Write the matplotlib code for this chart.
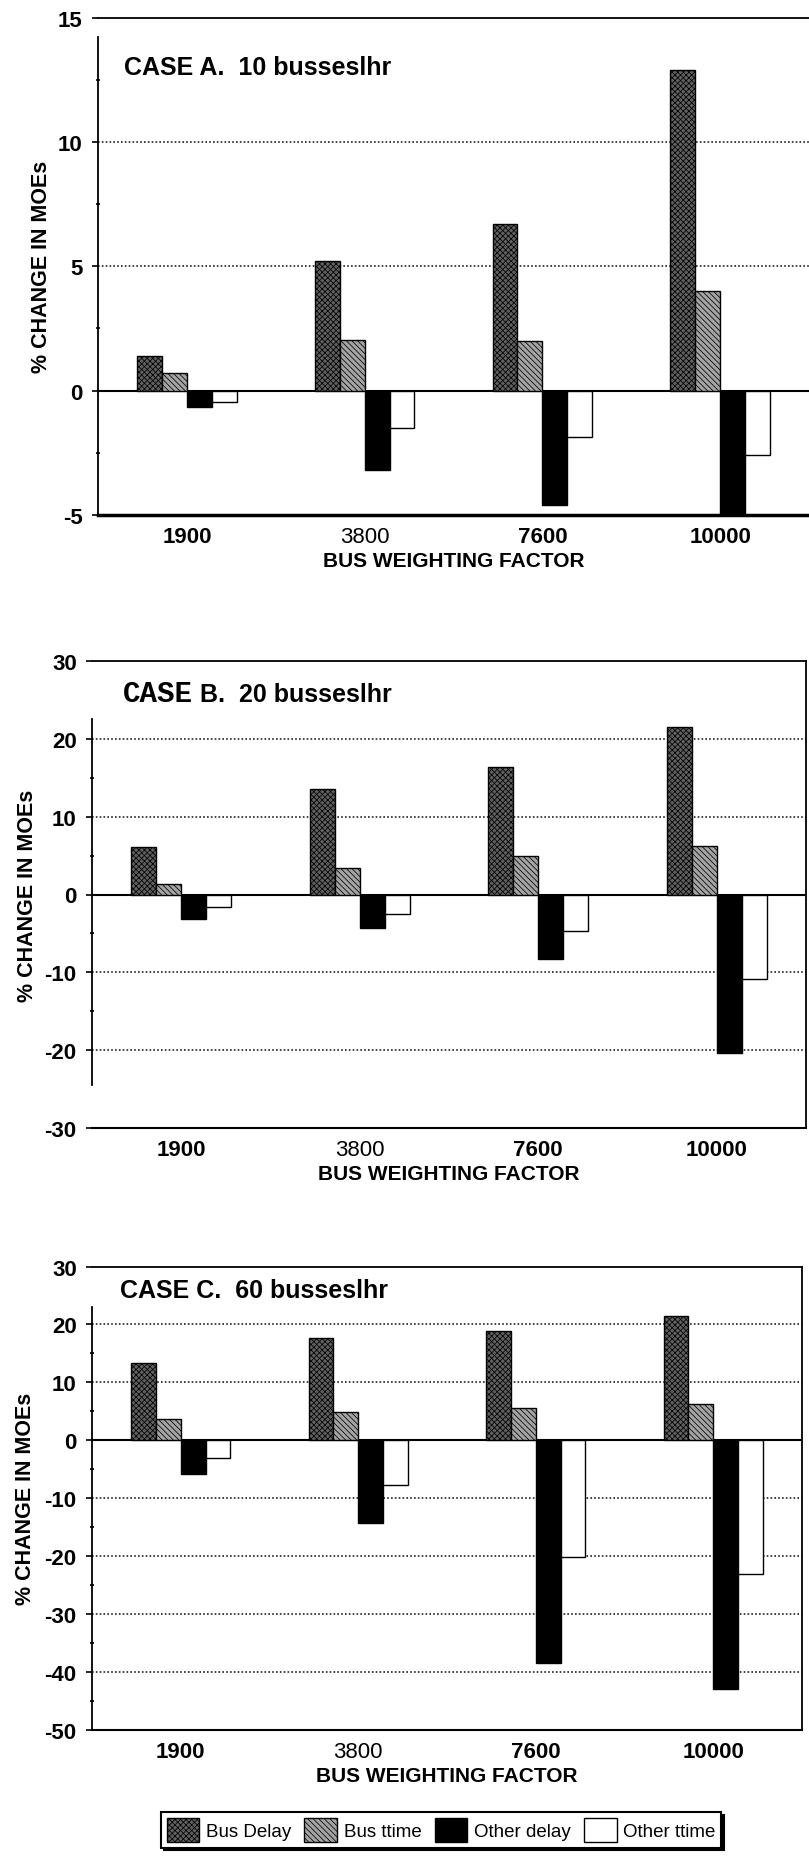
import matplotlib
matplotlib.use("Agg")
import matplotlib.pyplot as plt
import numpy as np

plt.rcParams['font.family'] = ['Liberation Sans', 'DejaVu Sans']
plt.rcParams['hatch.linewidth'] = 0.55

# ---------------- data ----------------
categories = ["1900", "3800", "7600", "10000"]
series_names = ["Bus Delay", "Bus ttime", "Other delay", "Other ttime"]

bus_delay_a = [1.4, 5.2, 6.7, 12.9]
bus_time_a = [0.7, 2.05, 2.0, 4.0]
other_delay_a = [-0.65, -3.2, -4.6, -5.1]
other_time_a = [-0.45, -1.5, -1.85, -2.6]

bus_delay_b = [6.1, 13.5, 16.4, 21.5]
bus_time_b = [1.4, 3.4, 4.9, 6.2]
other_delay_b = [-3.1, -4.3, -8.3, -20.3]
other_time_b = [-1.6, -2.5, -4.7, -10.8]

bus_delay_c = [13.3, 17.6, 18.9, 21.4]
bus_time_c = [3.6, 4.8, 5.6, 6.3]
other_delay_c = [-5.8, -14.3, -38.5, -43.0]
other_time_c = [-3.1, -7.7, -20.2, -23.1]

yticks_a = [-5, 0, 5, 10, 15]
yticks_b = [-30, -20, -10, 0, 10, 20, 30]
yticks_c = [-50, -40, -30, -20, -10, 0, 10, 20, 30]

# ---------------- layout ----------------
W, H = 809, 1858
fig = plt.figure(figsize=(W / 100, H / 100), dpi=100)


def add_ax(left, right, top, bottom):
    return fig.add_axes([left / W, 1 - bottom / H, (right - left) / W, (bottom - top) / H])


styles = [
    dict(facecolor='#606060', hatch='xxxxxx'),
    dict(facecolor='#a4a4a4', hatch='\\\\\\\\\\\\'),
    dict(facecolor='black'),
    dict(facecolor='white'),
]

bw = 0.14
offsets = np.array([-1.5, -0.5, 0.5, 1.5]) * bw
x = np.arange(len(categories))


def panel(ax, series, yticks, grid_vals, minor, left_bounds, right_visible, ylab_x, bottom_lw):
    handles = []
    for vals, st, off, name in zip(series, styles, offsets, series_names):
        h = ax.bar(x + off, vals, width=bw, edgecolor='black', linewidth=1.0,
                   zorder=3, label=name, **st)
        handles.append(h)
    for g in grid_vals:
        ax.axhline(g, color='#222222', lw=1.2, ls=(0, (1, 1.3)), zorder=0.5)
    ax.axhline(0, color='black', lw=1.5, zorder=2)
    ax.set_xlim(-0.5, 3.5)
    ax.set_ylim(yticks[0], yticks[-1])
    ax.set_yticks(yticks)
    ax.set_yticklabels([str(t) for t in yticks], fontweight='bold')
    ax.set_yticks(minor, minor=True)
    ax.set_xticks(x)
    ax.set_xticklabels(categories, fontweight='bold')
    ax.get_xticklabels()[1].set_fontweight('normal')
    ax.tick_params(axis='y', which='major', direction='out', length=4, width=1.2,
                   pad=7, labelsize=16)
    ax.tick_params(axis='y', which='minor', direction='inout', length=3, width=1.2)
    ax.tick_params(axis='x', length=0, pad=8, labelsize=16)
    ax.set_xlabel("BUS WEIGHTING FACTOR", fontsize=15, fontweight='bold', labelpad=3)
    ax.set_ylabel("% CHANGE IN MOEs", fontsize=15.5, fontweight='bold')
    ax.yaxis.set_label_coords(ylab_x, 0.5)
    ax.spines['left'].set_bounds(*left_bounds)
    ax.spines['right'].set_visible(right_visible)
    for s in ['left', 'right', 'top']:
        ax.spines[s].set_linewidth(1.3)
    ax.spines['bottom'].set_linewidth(bottom_lw)
    return handles


axA = add_ax(98, 809, 18.6, 516)
panel(axA, [bus_delay_a, bus_time_a, other_delay_a, other_time_a], yticks_a,
      [5, 10], [-2.5, 2.5, 7.5, 12.5], (-5, 14.2), False, -0.064, 2.5)

axB = add_ax(92, 806, 662, 1129)
panel(axB, [bus_delay_b, bus_time_b, other_delay_b, other_time_b], yticks_b,
      [-20, -10, 10, 20], [-15, -5, 5, 15], (-24.5, 22.5), True, -0.075, 1.5)

axC = add_ax(92, 802, 1267.6, 1730.7)
handles = panel(axC, [bus_delay_c, bus_time_c, other_delay_c, other_time_c], yticks_c,
                [-40, -30, -20, -10, 10, 20], [-45, -35, -25, -15, -5, 5, 15],
                (-50, 23), True, -0.079, 1.5)

# ---------------- titles ----------------
fig.text(124 / W, 1 - 75 / H, "CASE A.  10 busseslhr", fontsize=18, fontweight='bold',
         va='baseline', ha='left')
t1 = fig.text(123 / W, 1 - 702 / H, "CASE", fontsize=21, fontweight='bold',
              family=['Liberation Mono', 'DejaVu Sans Mono'], va='baseline', ha='left')
fig.canvas.draw()
bb = t1.get_window_extent(fig.canvas.get_renderer())
fig.text(bb.x1 / fig.bbox.width, 1 - 702 / H, " B.  20 busseslhr", fontsize=18,
         fontweight='bold', va='baseline', ha='left')
fig.text(120 / W, 1 - 1298 / H, "CASE C.  60 busseslhr", fontsize=18, fontweight='bold',
         va='baseline', ha='left')

# ---------------- legend ----------------
leg = fig.legend(handles, series_names, ncol=4, loc='center',
                 bbox_to_anchor=(441 / W, 1 - 1831 / H),
                 prop={'family': ['Liberation Sans', 'DejaVu Sans'], 'size': 13.5},
                 frameon=True, fancybox=False, edgecolor='black', framealpha=1,
                 handlelength=1.75, handleheight=1.6, handletextpad=0.35,
                 columnspacing=0.7, borderpad=0.3,
                 shadow={'color': 'black', 'alpha': 1})
leg.get_frame().set_linewidth(1.5)

fig.savefig("out.png", dpi=100)
